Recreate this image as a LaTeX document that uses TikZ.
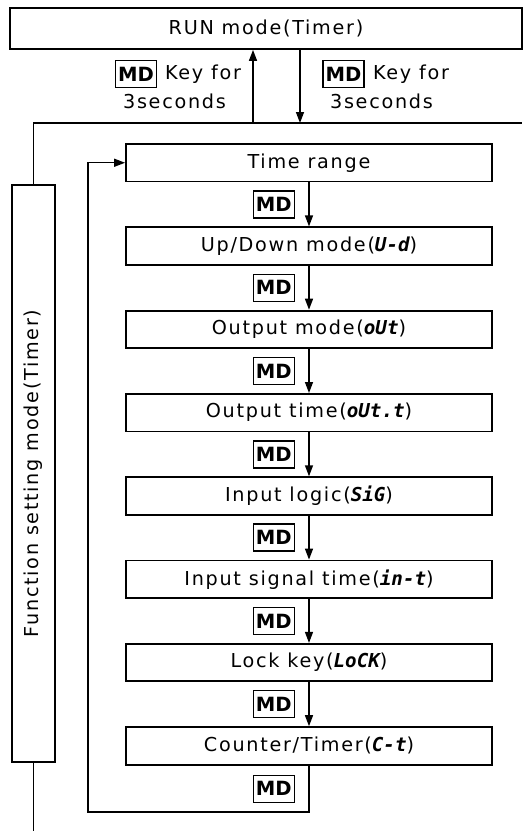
\documentclass[tikz,border=0pt]{standalone}
\usepackage{fontspec}
\setmainfont{DejaVu Sans}[LetterSpace=9]
\newfontfamily\keyfont{DejaVu Sans}
\newfontfamily\segfont{DejaVu Sans Mono}
\usetikzlibrary{arrows.meta,positioning}

\newcommand{\segcode}[1]{{\segfont\bfseries\itshape #1}}

\begin{document}
\begin{tikzpicture}[
      x=0.5pt, y=-0.5pt,
      node distance=22pt,
      every node/.style={font=\fontsize{9.6}{11}\selectfont},
      box/.style={draw, line width=0.9pt, inner sep=0pt, minimum width=183pt, minimum height=18.75pt},
      mdkey/.style={draw, line width=0.7pt, inner sep=0pt, minimum width=20.5pt, minimum height=13.5pt, font=\keyfont\bfseries\fontsize{9.8}{11}\selectfont},
      arr/.style={-{Triangle[length=5.5pt,width=4pt]}, line width=0.7pt},
      wire/.style={line width=0.7pt}
    ]
      \useasboundingbox (0,0) rectangle (530,831);
      \node[box, minimum width=256pt, minimum height=20.5pt] (run) at (266,28.5) {RUN mode(Timer)};
      \node[mdkey] (mdleft) at (136,74) {MD};
      \node[anchor=west] (forleft) at (158,74) {Key for};
      \node[anchor=west] (secleft) at (116,101) {3seconds};
      \node[mdkey] (mdright) at (343.5,74) {MD};
      \node[anchor=west] (forright) at (366,74) {Key for};
      \node[anchor=west] (secright) at (323,101) {3seconds};
      \coordinate (upfoot) at (253,123);
      \coordinate (downfoot) at (300,123);
      \coordinate (rend) at (522,123);
      \draw[arr] (upfoot) -- (upfoot |- run.south);
      \draw[arr] (downfoot |- run.south) -- (downfoot);

      \node[box, rotate=90, minimum width=288.5pt, minimum height=21.5pt] (func) at (33.5,473.5) {Function setting mode(Timer)};
      \coordinate (fend) at (33.5,831);
      \draw[wire] (func.east) |- (rend);
      \draw[wire] (func.west) -- (fend);

      \node[box] (range) at (309,162.75) {Time range};
      \node[box, below=of range] (updown) {Up/Down mode(\segcode{U-d})};
      \node[box, below=of updown] (outmode) {Output mode(\segcode{oUt})};
      \node[box, below=of outmode] (outtime) {Output time(\segcode{oUt.t})};
      \node[box, below=of outtime] (inlogic) {Input logic(\segcode{SiG})};
      \node[box, below=of inlogic] (insignal) {Input signal time(\segcode{in-t})};
      \node[box, below=of insignal] (lockkey) {Lock key(\segcode{LoCK})};
      \node[box, below=of lockkey] (ctimer) {Counter/Timer(\segcode{C-t})};
      \foreach \a/\b in {range/updown, updown/outmode, outmode/outtime, outtime/inlogic, inlogic/insignal, insignal/lockkey, lockkey/ctimer}
        \draw[arr] (\a) -- node[mdkey, left=7pt] (md-\a) {MD} (\b);
      \coordinate (loopc) at (88,812);
      \draw[arr] (ctimer.south) |- node[mdkey, left=7pt, pos=0.25] (md-ctimer) {MD} (loopc) |- (range.west);
    \end{tikzpicture}
\end{document}
